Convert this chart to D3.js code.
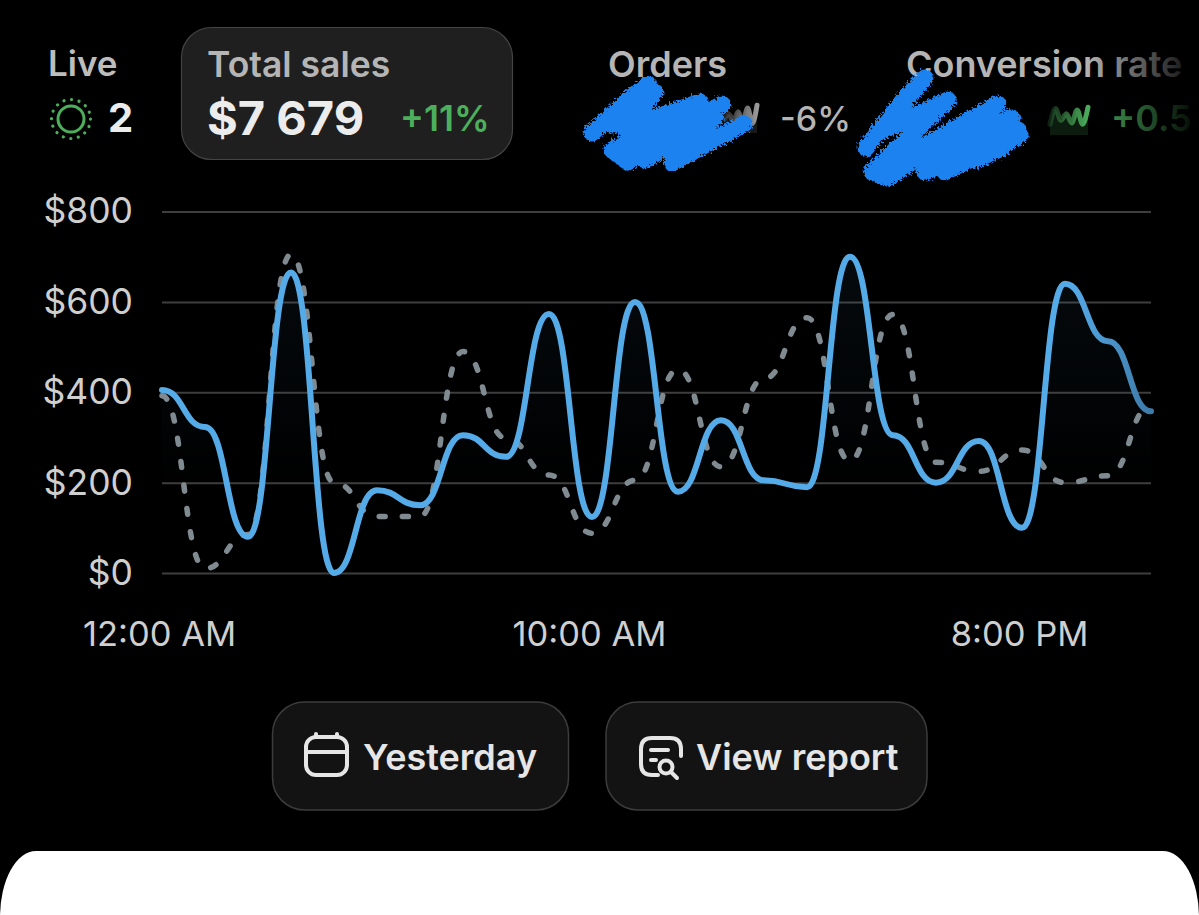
<!DOCTYPE html>
<html>
<head>
<meta charset="utf-8">
<script src="https://cdn.jsdelivr.net/npm/d3@7"></script>
<style>
  html, body { margin: 0; padding: 0; background: #000; overflow: hidden; }
  svg { display: block; }
  text { font-family: Inter, "Noto Sans", sans-serif; }
</style>
</head>
<body>
<script>
// hourly sales
const hours = [0,1,2,3,4,5,6,7,8,9,10,11,12,13,14,15,16,17,18,19,20,21,22,23];
const todaySales = [405,323,80,665,0,183,150,305,257,573,124,600,180,338,205,190,700,305,200,292,100,640,513,358];
const previousSales = [392,10,85,705,200,125,125,490,298,217,88,205,450,235,430,565,248,572,245,225,272,200,215,370];
const yTicks = [0,200,400,600,800];
const xTickHours = [0,10,20];
const xTickLabels = ["12:00 AM","10:00 AM","8:00 PM"];
// little sparklines in the header
const ordersSpark = [40,62,35,70,30,85,25,95];
const conversionSpark = [30,90,45,70,35,85,30,95];

const width = 1199, height = 915;
const margin = { left: 162, right: 48, top: 211.5, bottom: 342 };

const svg = d3.select("body").append("svg")
  .attr("width", width)
  .attr("height", height);
const defs = svg.append("defs");

svg.append("rect").attr("width", width).attr("height", height).attr("fill", "#000");

// scales
const x = d3.scaleLinear().domain([0, 23]).range([margin.left, width - margin.right]);
const y = d3.scaleLinear().domain([0, 800]).range([height - margin.bottom, margin.top]);

// gradients
const areaGrad = defs.append("linearGradient").attr("id", "areaGrad")
  .attr("x1", 0).attr("x2", 0).attr("y1", 0).attr("y2", 1);
areaGrad.append("stop").attr("offset", "0%").attr("stop-color", "#5aaee8").attr("stop-opacity", 0.06);
areaGrad.append("stop").attr("offset", "75%").attr("stop-color", "#5aaee8").attr("stop-opacity", 0);

const lineGrad = defs.append("linearGradient").attr("id", "lineGrad")
  .attr("gradientUnits", "userSpaceOnUse")
  .attr("x1", x(0)).attr("x2", x(23)).attr("y1", 0).attr("y2", 0);
lineGrad.append("stop").attr("offset", "92%").attr("stop-color", "#55aae8");
lineGrad.append("stop").attr("offset", "100%").attr("stop-color", "#3d7aa8");

const fadeGrad = defs.append("linearGradient").attr("id", "fadeGrad")
  .attr("gradientUnits", "userSpaceOnUse")
  .attr("x1", 1085).attr("x2", 1192).attr("y1", 0).attr("y2", 0);
fadeGrad.append("stop").attr("offset", "0%").attr("stop-color", "#000").attr("stop-opacity", 0);
fadeGrad.append("stop").attr("offset", "100%").attr("stop-color", "#000").attr("stop-opacity", 0.92);

// y axis + gridlines
const yAxis = d3.axisLeft(y)
  .tickValues(yTicks)
  .tickSize(-(width - margin.left - margin.right))
  .tickPadding(29)
  .tickFormat(d => "$" + d);

svg.append("g")
  .attr("transform", "translate(" + margin.left + ",0)")
  .call(yAxis)
  .call(g => g.select(".domain").remove())
  .call(g => g.selectAll("line").attr("stroke", "#3e3e3e").attr("stroke-width", 2))
  .call(g => g.selectAll("text")
    .attr("fill", "#cfcfcf").attr("font-size", 35.5).attr("font-weight", 400));

// x axis
const xAxis = d3.axisBottom(x)
  .tickValues(xTickHours)
  .tickSize(0)
  .tickPadding(49)
  .tickFormat((d, i) => xTickLabels[i]);

svg.append("g")
  .attr("transform", "translate(-3," + y(0) + ")")
  .call(xAxis)
  .call(g => g.select(".domain").remove())
  .call(g => g.selectAll("text")
    .attr("fill", "#cfcfcf").attr("font-size", 34.5).attr("font-weight", 400));

// area under today's line
const area = d3.area()
  .x((d, i) => x(hours[i]))
  .y0(y(0))
  .y1(d => y(d))
  .curve(d3.curveBumpX);

svg.append("path").datum(todaySales)
  .attr("d", area)
  .attr("fill", "url(#areaGrad)");

const line = d3.line()
  .x((d, i) => x(hours[i]))
  .y(d => y(d))
  .curve(d3.curveBumpX);

// previous period, dashed
svg.append("path").datum(previousSales)
  .attr("d", line)
  .attr("fill", "none")
  .attr("stroke", "#808b91")
  .attr("stroke-width", 5.5)
  .attr("stroke-linecap", "round")
  .attr("stroke-dasharray", "6 17.5");

svg.append("path").datum(todaySales)
  .attr("d", line)
  .attr("fill", "none")
  .attr("stroke", "url(#lineGrad)")
  .attr("stroke-width", 6)
  .attr("stroke-linecap", "round");

// header -----------------------------------------------------
function label(txt, px, py, size, weight, fill) {
  return svg.append("text").attr("x", px).attr("y", py)
    .attr("font-size", size).attr("font-weight", weight).attr("fill", fill).text(txt);
}

label("Live", 48, 76, 35, 600, "#bdbdbd");
label("2", 108, 132, 40, 700, "#ececec");

// live icon
svg.append("circle").attr("cx", 71).attr("cy", 119).attr("r", 13)
  .attr("fill", "none").attr("stroke", "#4caf5c").attr("stroke-width", 3);
svg.append("circle").attr("cx", 71).attr("cy", 119).attr("r", 19.5)
  .attr("fill", "none").attr("stroke", "#4caf5c").attr("stroke-width", 3.2)
  .attr("stroke-linecap", "round").attr("stroke-dasharray", "0.1 7.55");

// selected card
svg.append("rect").attr("x", 181.5).attr("y", 27.5).attr("width", 331).attr("height", 132).attr("rx", 30)
  .attr("fill", "#1f1f1f").attr("stroke", "#444").attr("stroke-width", 1.2);
label("Total sales", 207, 77, 35.5, 600, "#b5b5b5");
label("$7 679", 207, 135, 47, 700, "#ececec");
label("+11%", 400, 131, 35.5, 600, "#4caf5c");

// the other two metrics
label("Orders", 608, 77, 36, 600, "#b5b5b5");
label("-6%", 780, 131, 34, 500, "#b5b5b5");
label("Conversion rate", 906, 77, 36, 600, "#b5b5b5");
label("+0.5", 1111, 131, 36, 600, "#4caf5c");

function spark(values, x0, x1, y0, y1, color, id) {
  const sx = d3.scaleLinear().domain([0, values.length - 1]).range([x0, x1]);
  const sy = d3.scaleLinear().domain([0, 100]).range([y1, y0]);
  const g = defs.append("linearGradient").attr("id", id)
    .attr("gradientUnits", "userSpaceOnUse")
    .attr("x1", x0).attr("x2", x1).attr("y1", 0).attr("y2", 0);
  g.append("stop").attr("offset", "0%").attr("stop-color", color).attr("stop-opacity", 0.2);
  g.append("stop").attr("offset", "100%").attr("stop-color", color).attr("stop-opacity", 1);
  svg.append("path").datum(values)
    .attr("d", d3.area().x((d, i) => sx(i)).y0(y1 + 3).y1(d => sy(d)).curve(d3.curveMonotoneX))
    .attr("fill", color).attr("fill-opacity", 0.16);
  svg.append("path").datum(values)
    .attr("d", d3.line().x((d, i) => sx(i)).y(d => sy(d)).curve(d3.curveMonotoneX))
    .attr("fill", "none").attr("stroke", "url(#" + id + ")")
    .attr("stroke-width", 5).attr("stroke-linecap", "round");
}
spark(ordersSpark, 724, 757, 104, 130, "#9a9a9a", "sparkOrders");
spark(conversionSpark, 1050, 1088, 106, 132, "#4caf5c", "sparkConv");

// redaction scribbles
const rough = defs.append("filter").attr("id", "rough")
  .attr("x", "-10%").attr("y", "-10%").attr("width", "120%").attr("height", "120%");
rough.append("feTurbulence").attr("type", "fractalNoise").attr("baseFrequency", 0.45).attr("numOctaves", 2).attr("seed", 4);
rough.append("feDisplacementMap").attr("in", "SourceGraphic").attr("scale", 7);

const scribble = d3.line();
const orderScribble = [[592,133],[628,100],[648,84],[612,125],[655,92],[625,128],[700,102],[612,150],[628,162],[722,104],[632,156],[690,125],[645,160],[715,118],[672,163],[714,140],[744,124]];
const convScribble = [[866,148],[905,98],[925,78],[880,132],[948,100],[872,172],[888,178],[998,104],[890,165],[1012,118],[925,172],[1018,130],[945,172],[1020,135],[975,160],[1002,148]];
[orderScribble, convScribble].forEach(pts => {
  svg.append("path").attr("d", scribble(pts))
    .attr("fill", "none").attr("stroke", "#1e82f0").attr("stroke-width", 17)
    .attr("stroke-linecap", "round").attr("stroke-linejoin", "round")
    .attr("filter", "url(#rough)");
});

// header fades out at the right edge
svg.append("rect").attr("x", 1085).attr("y", 30).attr("width", 114).attr("height", 120).attr("fill", "url(#fadeGrad)");

// buttons
function button(bx, bw, txt, tx) {
  svg.append("rect").attr("x", bx).attr("y", 702).attr("width", bw).attr("height", 108).attr("rx", 32)
    .attr("fill", "#131313").attr("stroke", "#3c3c3c").attr("stroke-width", 1.5);
  label(txt, tx, 770, 36, 600, "#e6e6e6");
}
button(272.5, 296, "Yesterday", 363);
button(606, 321, "View report", 696);

// calendar icon
const icon = svg.append("g").attr("fill", "none").attr("stroke", "#e6e6e6")
  .attr("stroke-width", 4).attr("stroke-linecap", "round").attr("stroke-linejoin", "round");
icon.append("rect").attr("x", 306).attr("y", 737).attr("width", 41).attr("height", 38).attr("rx", 10);
icon.append("path").attr("d", "M306 752H347M316 737V734M337 737V734");
// report icon
icon.append("path").attr("d", "M658 775H652Q641 775 641 764V749Q641 738 652 738H670Q681 738 681 749V756");
icon.append("path").attr("d", "M651 750H668M651 760H656");
icon.append("circle").attr("cx", 666).attr("cy", 767).attr("r", 6.5);
icon.append("path").attr("d", "M671 772L677 778");

// white sheet at the bottom
svg.append("rect").attr("x", 0).attr("y", 851).attr("width", width).attr("height", 160)
  .attr("rx", 36).attr("ry", 66).attr("fill", "#fff");
</script>
</body>
</html>
